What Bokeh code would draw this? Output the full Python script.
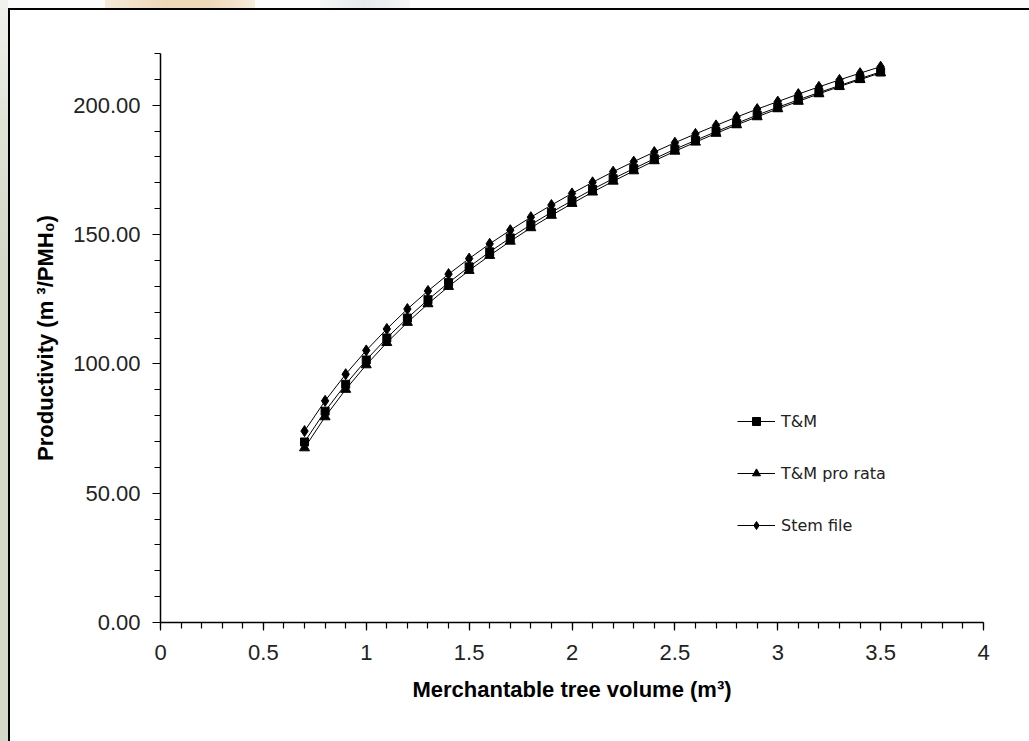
from bokeh.plotting import figure
from bokeh.models import (Range1d, FixedTicker, NumeralTickFormatter, Legend, LegendItem,
                          ColumnDataSource)
from bokeh.embed import file_html
from bokeh.resources import INLINE

volume = [0.7, 0.8, 0.9, 1.0, 1.1, 1.2, 1.3, 1.4, 1.5, 1.6, 1.7, 1.8, 1.9, 2.0, 2.1,
          2.2, 2.3, 2.4, 2.5, 2.6, 2.7, 2.8, 2.9, 3.0, 3.1, 3.2, 3.3, 3.4, 3.5]
tm = [69.8, 81.7, 92.1, 101.5, 110.0, 117.7, 124.8, 131.4, 137.5, 143.3, 148.7, 153.8,
      158.6, 163.1, 167.5, 171.6, 175.5, 179.3, 183.0, 186.4, 189.8, 193.0, 196.2,
      199.2, 202.1, 204.9, 207.6, 210.3, 212.9]
tm_pro_rata = [67.5, 79.5, 90.1, 99.6, 108.2, 116.0, 123.2, 129.9, 136.1, 141.9, 147.4,
               152.6, 157.4, 162.0, 166.4, 170.6, 174.6, 178.5, 182.2, 185.7, 189.1,
               192.4, 195.5, 198.6, 201.5, 204.4, 207.2, 209.9, 212.5]
stem_file = [74.0, 85.7, 96.0, 105.2, 113.5, 121.2, 128.2, 134.7, 140.7, 146.4, 151.7,
             156.7, 161.4, 165.9, 170.2, 174.3, 178.2, 181.9, 185.5, 188.9, 192.2, 195.4,
             198.5, 201.4, 204.3, 207.1, 209.8, 212.4, 214.9]
series_names = ["T&M", "T&M pro rata", "Stem file"]
x_ticks = [0, 0.5, 1, 1.5, 2, 2.5, 3, 3.5, 4]
x_minor = [i / 10 for i in range(0, 41)]
y_ticks = [0, 50, 100, 150, 200]
y_minor = list(range(0, 221, 10))

p = figure(width=1029, height=741, output_backend="svg", toolbar_location=None,
           x_range=Range1d(0, 4), y_range=Range1d(0, 220),
           min_border_left=160, min_border_right=46, min_border_top=53, min_border_bottom=119)
p.outline_line_color = None
p.xgrid.visible = False
p.ygrid.visible = False
p.background_fill_color = "white"
p.border_fill_alpha = 0

# page backdrop (frame lines at top/left of the chart, tinted page edges) drawn with CSS layers
p.styles = {
    "background": ", ".join([
        "linear-gradient(#000,#000) 8px 8px / 1021px 2px no-repeat",
        "linear-gradient(#000,#000) 8px 8px / 2px 733px no-repeat",
        "linear-gradient(#fff,#fff) 10px 10px / 1019px 731px no-repeat",
        "linear-gradient(to bottom, #f1f2ee 0px, #dfe3d6 120px, #d3d8c8 260px, #d3d8c8 741px) 0 0 / 8px 741px no-repeat",
        "linear-gradient(to right, #f5ead9, #efd8b8 40%, #efd8b8 70%, #f6ecdd) 105px 0 / 150px 8px no-repeat",
        "linear-gradient(to right, #f4f6f6, #e6eaec, #f4f6f6) 320px 0 / 90px 8px no-repeat",
        "#fbfbfb",
    ])
}

src = ColumnDataSource(dict(x=volume, tm=tm, pr=tm_pro_rata, sf=stem_file))

l1 = p.line("x", "tm", source=src, line_color="black", line_width=1)
m1 = p.scatter("x", "tm", source=src, marker="square", size=8, color="black")
l2 = p.line("x", "pr", source=src, line_color="black", line_width=1)
m2 = p.scatter("x", "pr", source=src, marker="triangle", size=10, color="black")
l3 = p.line("x", "sf", source=src, line_color="black", line_width=1)
m3 = p.scatter("x", "sf", source=src, marker="diamond", size=11, color="black")

for ax in (p.xaxis[0], p.yaxis[0]):
    ax.axis_line_color = "black"
    ax.axis_line_width = 1.5
    ax.major_tick_line_color = "black"
    ax.minor_tick_line_color = "black"
    ax.major_tick_line_width = 1.2
    ax.minor_tick_line_width = 1.2
    ax.major_tick_in = 0
    ax.minor_tick_in = 0
    ax.major_tick_out = 8
    ax.minor_tick_out = 6
    ax.major_label_text_font = "Liberation Sans"
    ax.major_label_text_font_size = "22px"
    ax.major_label_text_color = "#222222"
    ax.axis_label_text_font = "Liberation Sans"
    ax.axis_label_text_font_size = "22px"
    ax.axis_label_text_font_style = "bold"
    ax.axis_label_text_color = "black"

p.xaxis.ticker = FixedTicker(ticks=x_ticks, minor_ticks=x_minor)
p.xaxis.formatter = NumeralTickFormatter(format="0.[0]")
p.xaxis.major_label_standoff = 14
p.xaxis.axis_label = "Merchantable tree volume (m³)"
p.xaxis.axis_label_standoff = 14

p.yaxis.ticker = FixedTicker(ticks=y_ticks, minor_ticks=y_minor)
p.yaxis.formatter = NumeralTickFormatter(format="0.00")
p.yaxis.major_label_standoff = 12
p.yaxis.axis_label = "Productivity (m ³/PMH₀)"
p.yaxis.axis_label_standoff = 12

legend = Legend(items=[
    LegendItem(label=series_names[0], renderers=[l1, m1]),
    LegendItem(label=series_names[1], renderers=[l2, m2]),
    LegendItem(label=series_names[2], renderers=[l3, m3]),
], location=(577, 87))
legend.background_fill_alpha = 0
legend.border_line_alpha = 0
legend.padding = 0
legend.margin = 0
legend.spacing = 32
legend.glyph_width = 38
legend.glyph_height = 20
legend.label_height = 20
legend.label_standoff = 6
legend.label_text_font = "DejaVu Sans"
legend.label_text_font_size = "16px"
legend.label_text_color = "#222222"
p.add_layout(legend, "center")

open("out.html", "w").write(file_html(p, INLINE))
